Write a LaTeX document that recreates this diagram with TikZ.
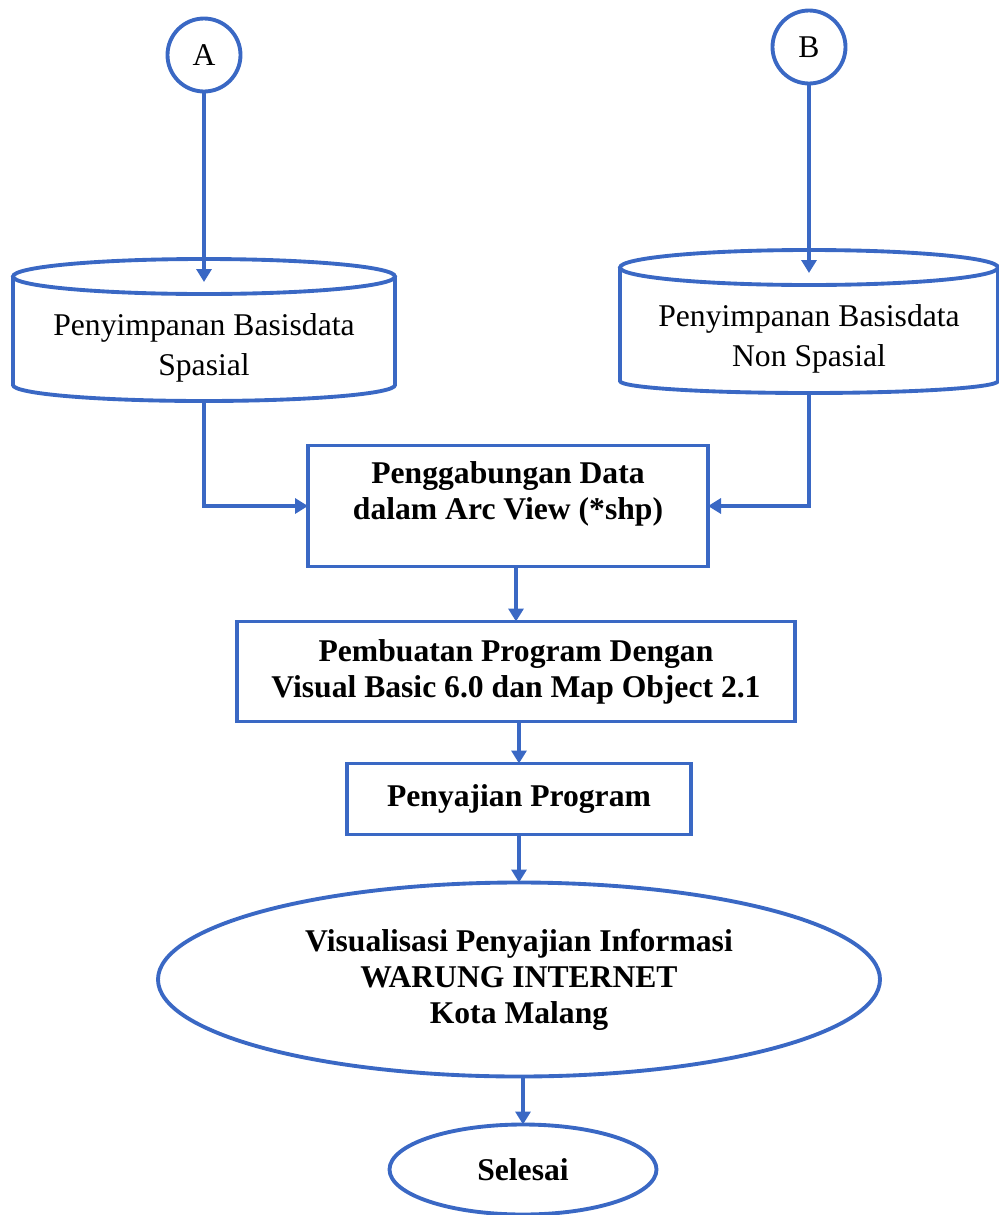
\documentclass[tikz,border=0pt]{standalone}
\usepackage{fontspec}
\setmainfont{Liberation Serif}
\usetikzlibrary{arrows.meta,positioning,shapes.geometric}
\definecolor{flowblue}{RGB}{58,104,196}

\begin{document}
\begin{tikzpicture}[
blueline/.style={draw=flowblue,line width=2.2pt},
conn/.style={blueline,circle,minimum size=1.46cm,inner sep=0pt,font=\fontsize{18}{22}\selectfont},
store/.style={align=center,inner sep=0pt,outer sep=0pt,font=\fontsize{18}{22.8}\selectfont},
proc/.style={blueline,rectangle,align=center,inner sep=0pt,outer sep=0pt,font=\fontsize{18}{20.5}\selectfont\bfseries},
term/.style={blueline,ellipse,align=center,inner sep=0pt,outer sep=0pt,font=\fontsize{18}{20.5}\selectfont\bfseries},
flow/.style={blueline,-{Triangle[length=2.6mm,width=3mm]}}]
\useasboundingbox (0,0) rectangle (19.98,-24.3);
\node[conn](a) at (4.08,-1.10){A};
\node[conn](b) at (16.18,-0.94){B};
\node[store,minimum width=7.64cm,minimum height=2.14cm](spasial) at (4.08,-6.95){Penyimpanan Basisdata\\Spasial};
\node[store,minimum width=7.56cm,minimum height=2.16cm](nonspasial) at (16.18,-6.78){Penyimpanan Basisdata\\Non Spasial};
% database cylinders drawn round the two store nodes
\draw[blueline]([yshift=3.5mm]spasial.north west)--([yshift=3.2mm]spasial.south west) arc[start angle=180,end angle=360,x radius=3.82cm,y radius=3.2mm]--([yshift=3.5mm]spasial.north east);
\draw[blueline]([yshift=3.5mm]spasial.north) ellipse[x radius=3.82cm,y radius=3.5mm];
\draw[blueline]([yshift=3.5mm]nonspasial.north west)--([yshift=2.4mm]nonspasial.south west) arc[start angle=180,end angle=360,x radius=3.78cm,y radius=2.4mm]--([yshift=3.5mm]nonspasial.north east);
\draw[blueline]([yshift=3.5mm]nonspasial.north) ellipse[x radius=3.78cm,y radius=3.5mm];
\node[proc,minimum width=8cm,minimum height=2.42cm](gabung) at (10.16,-10.12){Penggabungan Data\\dalam Arc View (*shp)\\[-1mm]\mbox{}};
\node[proc,minimum width=11.16cm,minimum height=2cm,below=1.1cm of gabung,xshift=1.6mm](program){Pembuatan Program Dengan\\Visual Basic 6.0 dan Map Object 2.1};
\node[proc,minimum width=6.88cm,minimum height=1.42cm,below=.84cm of program,xshift=.6mm](sajian){Penyajian Program};
\node[term,minimum width=14.44cm,minimum height=3.88cm,below=.96cm of sajian](visual){Visualisasi Penyajian Informasi\\WARUNG INTERNET\\Kota Malang};
\node[term,minimum width=5.34cm,minimum height=1.8cm,below=.96cm of visual,xshift=.8mm](selesai){Selesai};
\draw[flow](a)--([yshift=2.4mm]spasial.north);\draw[flow](b)--([yshift=2.4mm]nonspasial.north);
\draw[flow](spasial.south)|-(gabung.west);\draw[flow](nonspasial.south)|-(gabung.east);
\draw[flow](program.north|-gabung.south)--(program);\draw[flow](sajian.north|-program.south)--(sajian);
\draw[flow](sajian)--(visual);\draw[flow](selesai.north|-visual.south)--(selesai);
\end{tikzpicture}
\end{document}
